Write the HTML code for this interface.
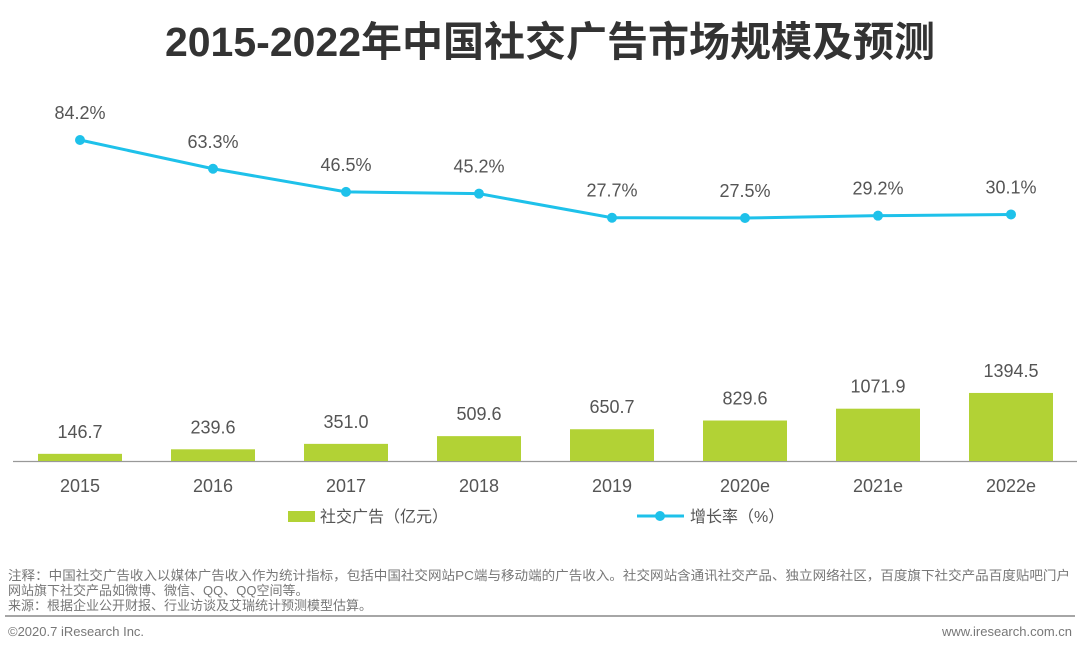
<!DOCTYPE html>
<html><head><meta charset="utf-8">
<style>
body{margin:0;background:#fff;}
svg{display:block;font-family:"Liberation Sans","Noto Sans CJK SC",sans-serif;}
</style></head>
<body>
<svg id="chart" width="1080" height="651" viewBox="0 0 1080 651">
<text x="550" y="56" text-anchor="middle" font-size="41" font-weight="bold" fill="#333">2015-2022年中国社交广告市场规模及预测</text>
<line x1="13" y1="461.5" x2="1077" y2="461.5" stroke="#999" stroke-width="1.2"/>
<g id="bars"></g><g id="line"></g><g id="xlabels"></g>
<g>
<rect x="288" y="511" width="27" height="11" fill="#b2d235"/>
<text x="320" y="522" font-size="16" fill="#555">社交广告（亿元）</text></g>
<g>
<line x1="637" y1="516" x2="684" y2="516" stroke="#1ec1ea" stroke-width="3"/>
<circle cx="660" cy="516" r="5" fill="#1ec1ea"/>
<text x="690" y="522" font-size="16" fill="#555">增长率（%）</text></g>
<text x="8" y="580" font-size="13" fill="#777" textLength="1062" lengthAdjust="spacingAndGlyphs">注释：中国社交广告收入以媒体广告收入作为统计指标，包括中国社交网站PC端与移动端的广告收入。社交网站含通讯社交产品、独立网络社区，百度旗下社交产品百度贴吧门户</text>
<text x="8" y="595" font-size="13" fill="#777">网站旗下社交产品如微博、微信、QQ、QQ空间等。</text>
<text x="8" y="610" font-size="13" fill="#777">来源：根据企业公开财报、行业访谈及艾瑞统计预测模型估算。</text>
<line x1="5" y1="616" x2="1075" y2="616" stroke="#888" stroke-width="1.5"/>
<text x="8" y="636" font-size="13" fill="#777">©2020.7 iResearch Inc.</text>
<text x="1072" y="636" font-size="13" fill="#777" text-anchor="end">www.iresearch.com.cn</text>
</svg>
<script>
const categories=["2015","2016","2017","2018","2019","2020e","2021e","2022e"];
const adValues=[146.7,239.6,351.0,509.6,650.7,829.6,1071.9,1394.5];
const growthValues=[84.2,63.3,46.5,45.2,27.7,27.5,29.2,30.1];
const NS="http://www.w3.org/2000/svg";
const xc=i=>80+i*133;
const yBar=v=>461-v*0.0488;
const yLine=v=>140+(84.2-v)*1.376;
function mk(t,a,p){const e=document.createElementNS(NS,t);for(const k in a)e.setAttribute(k,a[k]);p.appendChild(e);return e;}
const gb=document.getElementById('bars'),gl=document.getElementById('line'),gx=document.getElementById('xlabels');
adValues.forEach((v,i)=>{
 const r=mk('rect',{x:xc(i)-42,y:yBar(v),width:84,height:461-yBar(v),fill:'#b2d235'},gb);
 
 
 const t=mk('text',{x:xc(i),y:yBar(v)-16,'text-anchor':'middle','font-size':18,fill:'#555'},gb);
 t.textContent=v.toFixed(1);
 
 
 const c=mk('text',{x:xc(i),y:492,'text-anchor':'middle','font-size':18,fill:'#555'},gx);
 c.textContent=categories[i];
 
 
});
const pl=mk('polyline',{points:growthValues.map((v,i)=>xc(i)+','+yLine(v)).join(' '),fill:'none',stroke:'#1ec1ea','stroke-width':3},gl);


growthValues.forEach((v,i)=>{
 const c=mk('circle',{cx:xc(i),cy:yLine(v),r:5,fill:'#1ec1ea'},gl);
 
 
 const t=mk('text',{x:xc(i),y:yLine(v)-21,'text-anchor':'middle','font-size':18,fill:'#555'},gl);
 t.textContent=v.toFixed(1)+'%';
 
 
});
</script>
</body></html>
